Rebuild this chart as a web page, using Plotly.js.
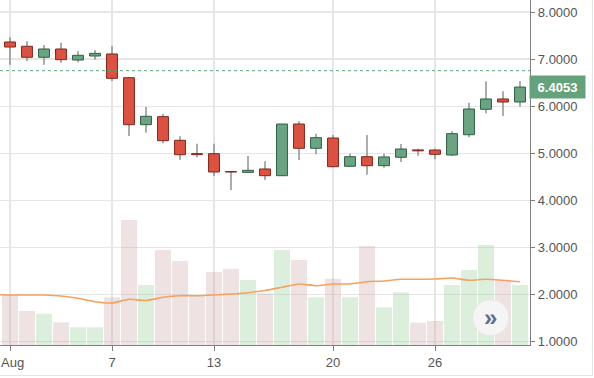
<!DOCTYPE html>
<html>
<head>
<meta charset="utf-8">
<script src="https://cdn.plot.ly/plotly-3.0.1.min.js"></script>
<style>
html,body{margin:0;padding:0;background:#fff;}
#wrap{position:relative;width:594px;height:378px;overflow:hidden;}
#chart{width:594px;height:378px;}
#frame{position:absolute;left:-1px;top:-1px;width:592px;height:375px;border:1px solid #e4e4e4;pointer-events:none;}
</style>
</head>
<body>
<div id="wrap"><div id="chart"></div><div id="frame"></div></div>
<script>
const dates = ['2018-08-01','2018-08-02','2018-08-03','2018-08-04','2018-08-05','2018-08-06','2018-08-07','2018-08-08','2018-08-09','2018-08-10','2018-08-11','2018-08-12','2018-08-13','2018-08-14','2018-08-15','2018-08-16','2018-08-17','2018-08-18','2018-08-19','2018-08-20','2018-08-21','2018-08-22','2018-08-23','2018-08-24','2018-08-25','2018-08-26','2018-08-27','2018-08-28','2018-08-29','2018-08-30','2018-08-31'];
const openV  = [7.363,7.271,7.038,7.214,6.980,7.065,7.108,6.604,5.606,5.776,5.274,4.990,4.990,4.610,4.594,4.665,4.522,5.620,5.104,5.323,4.722,4.926,4.735,4.913,5.070,5.068,4.962,5.393,5.933,6.152,6.088];
const highV  = [7.462,7.378,7.299,7.348,7.165,7.193,7.278,6.620,5.980,5.833,5.359,5.202,5.202,4.620,4.940,4.828,5.620,5.678,5.415,5.387,4.990,5.387,4.990,5.196,5.096,5.096,5.465,6.073,6.528,6.315,6.528];
const lowV   = [6.880,6.959,6.880,6.923,6.931,6.987,6.534,5.366,5.436,5.211,4.862,4.913,4.516,4.218,4.590,4.431,4.522,4.856,4.977,4.700,4.720,4.544,4.690,4.813,4.947,4.871,4.941,5.338,5.848,5.790,5.988];
const closeV = [7.256,7.038,7.214,6.987,7.080,7.122,6.591,5.606,5.784,5.266,4.968,4.970,4.601,4.600,4.636,4.522,5.620,5.104,5.330,4.713,4.926,4.735,4.920,5.089,5.050,4.977,5.415,5.939,6.152,6.088,6.4053];
const volume = [51,34,31.3,22.7,17.7,17.7,47.7,125,60,95,84,50,73,76.3,65,51.7,95,85,47.7,66.3,47.7,99,37.7,52.7,22.3,24,60,75,100,65,60];
const maDates = ['2018-07-31'].concat(dates);
const volumeMA = [50.5,50,50,50,49,46.7,43.3,42,45.7,44.5,47.7,49.3,49.3,50,51,52.3,54.5,57.7,61,59.3,61,61,63.3,64,65.7,65.7,66,67,64.7,65.7,64.7,63.3];
const lastPrice = 6.4053;
const markerLine = 6.753;
const yTicks = [1,2,3,4,5,6,7,8];
const xTickVals = ['2018-08-01','2018-08-07','2018-08-13','2018-08-20','2018-08-26'];
const xTickText = ['','7','13','20','26'];
const monthLabel = 'Aug';

const DAY = 86400000;
const up = dates.map((d,i)=>closeV[i]>=openV[i]);
const bodyBase = dates.map((d,i)=>Math.min(openV[i],closeV[i]));
const bodyH = dates.map((d,i)=>Math.max(Math.abs(closeV[i]-openV[i]),0.004));
const wickH = dates.map((d,i)=>highV[i]-lowV[i]);

const traces = [
  {type:'bar', x:dates, y:volume, yaxis:'y2', width:0.94*DAY,
   marker:{color:up.map(u=>u?'rgba(140,200,140,0.3)':'rgba(200,158,160,0.3)'), line:{width:0}},
   hoverinfo:'skip'},
  {type:'scatter', mode:'lines', x:maDates, y:volumeMA, yaxis:'y2',
   line:{color:'#f6a15e', width:1.6, shape:'spline', smoothing:0.6}, hoverinfo:'skip'},
  {type:'bar', x:dates, y:wickH, base:lowV, width:0.085*DAY,
   marker:{color:'#8c8c8c', line:{width:0}}, hoverinfo:'skip'},
  {type:'bar', x:dates, y:bodyH, base:bodyBase, width:0.64*DAY,
   marker:{color:up.map(u=>u?'#69a582':'#dc5140'),
           line:{color:up.map(u=>u?'#2f5f40':'#7e271c'), width:1}},
   hoverinfo:'skip'}
];

const layout = {
  width:594, height:378,
  margin:{l:0, r:64, t:0, b:33},
  paper_bgcolor:'#ffffff', plot_bgcolor:'#ffffff',
  showlegend:false, barmode:'overlay', hovermode:false,
  font:{family:'"Liberation Sans", Arial, sans-serif', size:13, color:'#555'},
  xaxis:{type:'date', range:['2018-07-31 09:53','2018-08-31 14:07'],
    tickmode:'array', tickvals:xTickVals, ticktext:xTickText,
    showgrid:true, gridcolor:'#e6e6e6', gridwidth:1.2,
    showline:true, linecolor:'#808080', linewidth:1.2,
    ticks:'outside', ticklen:5, tickcolor:'#808080',
    tickfont:{size:13, color:'#555'}, zeroline:false, fixedrange:true},
  yaxis:{side:'right', range:[0.925, 8.255],
    tickmode:'array', tickvals:yTicks, tickformat:'.4f',
    showgrid:true, gridcolor:'#e6e6e6', gridwidth:1.2,
    showline:true, linecolor:'#808080', linewidth:1.2,
    ticks:'outside', ticklen:4, tickcolor:'#808080',
    tickfont:{size:13, color:'#555'}, zeroline:false, fixedrange:true},
  yaxis2:{overlaying:'y', range:[0,345], visible:false, showgrid:false, fixedrange:true},
  shapes:[
    {type:'line', xref:'paper', x0:0, x1:1, yref:'y', y0:markerLine, y1:markerLine,
     line:{color:'#5aa57a', width:1, dash:'dot'}},
    {type:'circle', xref:'paper', yref:'paper', x0:0.892, x1:0.96, y0:0.027, y1:0.131,
     fillcolor:'#f5f5f5', line:{color:'#e8e8e8', width:1}}
  ],
  annotations:[
    {xref:'paper', x:0, xanchor:'left', yref:'paper', y:0, yanchor:'middle', yshift:-17,
     text:monthLabel, showarrow:false, borderpad:0,
     font:{size:13, color:'#555', family:'"Liberation Sans", Arial, sans-serif'}},
    {xref:'paper', x:1, xanchor:'left', xshift:-1, yref:'y', y:lastPrice, yanchor:'middle',
     text:'<b>'+lastPrice.toFixed(4)+'</b>', showarrow:false,
     bgcolor:'#64a27c', borderpad:3, width:49, height:16,
     font:{size:13, color:'#ffffff', family:'"Liberation Sans", Arial, sans-serif'}},
    {xref:'paper', yref:'paper', x:0.926, y:0.079, xanchor:'center', yanchor:'middle',
     text:'<b>»</b>', showarrow:false, font:{size:24, color:'#5d7189'}}
  ]
};

Plotly.newPlot('chart', traces, layout, {staticPlot:true, displayModeBar:false});
</script>
</body>
</html>
